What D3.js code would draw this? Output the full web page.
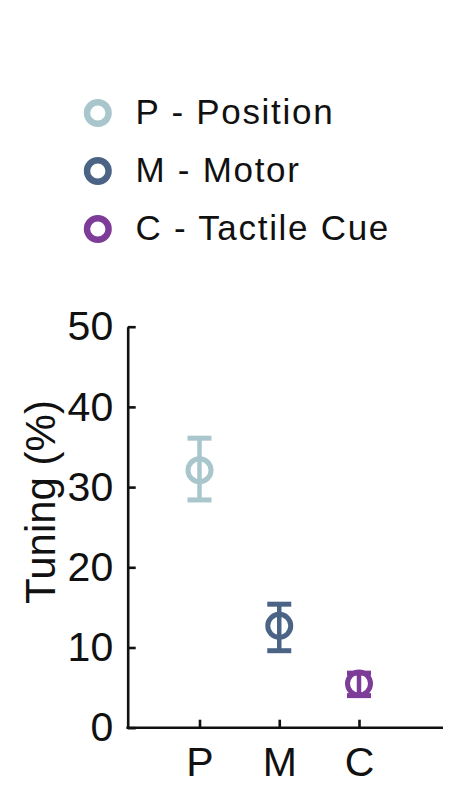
<!DOCTYPE html>
<html lang="en">
<head>
    <meta charset="utf-8">
    <title>Tuning (%)</title>
    <style>
        body { margin: 0; background: #fff; }
        svg { display: block; }
        .axis { font-family: "Liberation Sans", Arial, sans-serif; font-size: 41px; }
        .axis path, .axis line { stroke: #111; stroke-width: 2.6px; }
        .axis text { fill: #111; }
        .ylabel { font-size: 42px; }
        .legend text { font-family: "Liberation Sans", Arial, sans-serif; font-size: 35px; letter-spacing: 1.7px; fill: #111; }
    </style>
</head>
<body>
    <script src="https://cdn.jsdelivr.net/npm/d3@7"></script>
    <script>
        // data
        const categories = ["P", "M", "C"];
        const labels = ["P - Position", "M - Motor", "C - Tactile Cue"];
        const means = [32.1, 12.7, 5.5];
        const lower = [28.4, 9.6, 4.0];
        const upper = [36.1, 15.4, 6.8];
        const colors = ["#a8c6cc", "#4b6486", "#7d3c98"];
        const yTicks = [0, 10, 20, 30, 40, 50];

        const width = 449,
            height = 806;
        const plotLeft = 127.7,
            plotRight = 443,
            plotTop = 326.7,
            plotBottom = 727.7;

        const svg = d3.select("body")
            .append("svg")
                .attr("width", width)
                .attr("height", height);

        const y = d3.scaleLinear()
            .domain([0, 50])
            .range([plotBottom, plotTop]);
        const x = d3.scalePoint()
            .domain(categories)
            .range([199.5, 359]);

        // legend
        const rowY = d3.scalePoint()
            .domain(categories)
            .range([113, 229]);
        const legend = svg.append("g")
            .attr("class", "legend");
        const rows = legend.selectAll("g")
            .data(categories)
            .join("g")
                .attr("transform", d => `translate(0, ${rowY(d)})`);
        rows.append("circle")
            .attr("cx", 97.8)
            .attr("r", 10.8)
            .attr("fill", "none")
            .attr("stroke-width", 6.4)
            .attr("stroke", (d, i) => colors[i]);
        rows.append("text")
            .attr("x", 135.6)
            .attr("dy", "0.3em")
            .text((d, i) => labels[i]);

        // y axis
        svg.append("g")
            .attr("class", "y axis")
            .attr("transform", `translate(${plotLeft}, 0)`)
            .call(d3.axisLeft(y)
                .tickValues(yTicks)
                .tickSizeInner(-8)
                .tickSizeOuter(0)
                .tickPadding(14.5));

        // x axis
        const xAxis = svg.append("g")
            .attr("class", "x axis")
            .attr("transform", `translate(0, ${plotBottom})`)
            .call(d3.axisBottom(x)
                .tickSizeInner(-8)
                .tickSizeOuter(0)
                .tickPadding(19));
        xAxis.select(".domain").remove();
        xAxis.append("line")
            .attr("x1", plotLeft - 1.3)
            .attr("x2", plotRight);

        // y label
        svg.append("text")
            .attr("class", "axis ylabel")
            .attr("transform", "translate(55, 502) rotate(-90)")
            .attr("text-anchor", "middle")
            .attr("fill", "#111")
            .text("Tuning (%)");

        // points with error bars
        const pts = svg.append("g")
            .selectAll("g")
            .data(categories)
            .join("g")
                .attr("stroke", (d, i) => colors[i])
                .attr("fill", "none");
        pts.append("line")
            .attr("x1", d => x(d))
            .attr("x2", d => x(d))
            .attr("y1", (d, i) => y(lower[i]))
            .attr("y2", (d, i) => y(upper[i]))
            .attr("stroke-width", 4.5);
        pts.append("line")
            .attr("x1", d => x(d) - 12)
            .attr("x2", d => x(d) + 12)
            .attr("y1", (d, i) => y(upper[i]))
            .attr("y2", (d, i) => y(upper[i]))
            .attr("stroke-width", 5);
        pts.append("line")
            .attr("x1", d => x(d) - 12)
            .attr("x2", d => x(d) + 12)
            .attr("y1", (d, i) => y(lower[i]))
            .attr("y2", (d, i) => y(lower[i]))
            .attr("stroke-width", 5);
        pts.append("circle")
            .attr("cx", d => x(d))
            .attr("cy", (d, i) => y(means[i]))
            .attr("r", 11.5)
            .attr("stroke-width", 5);
    </script>
</body>
</html>
